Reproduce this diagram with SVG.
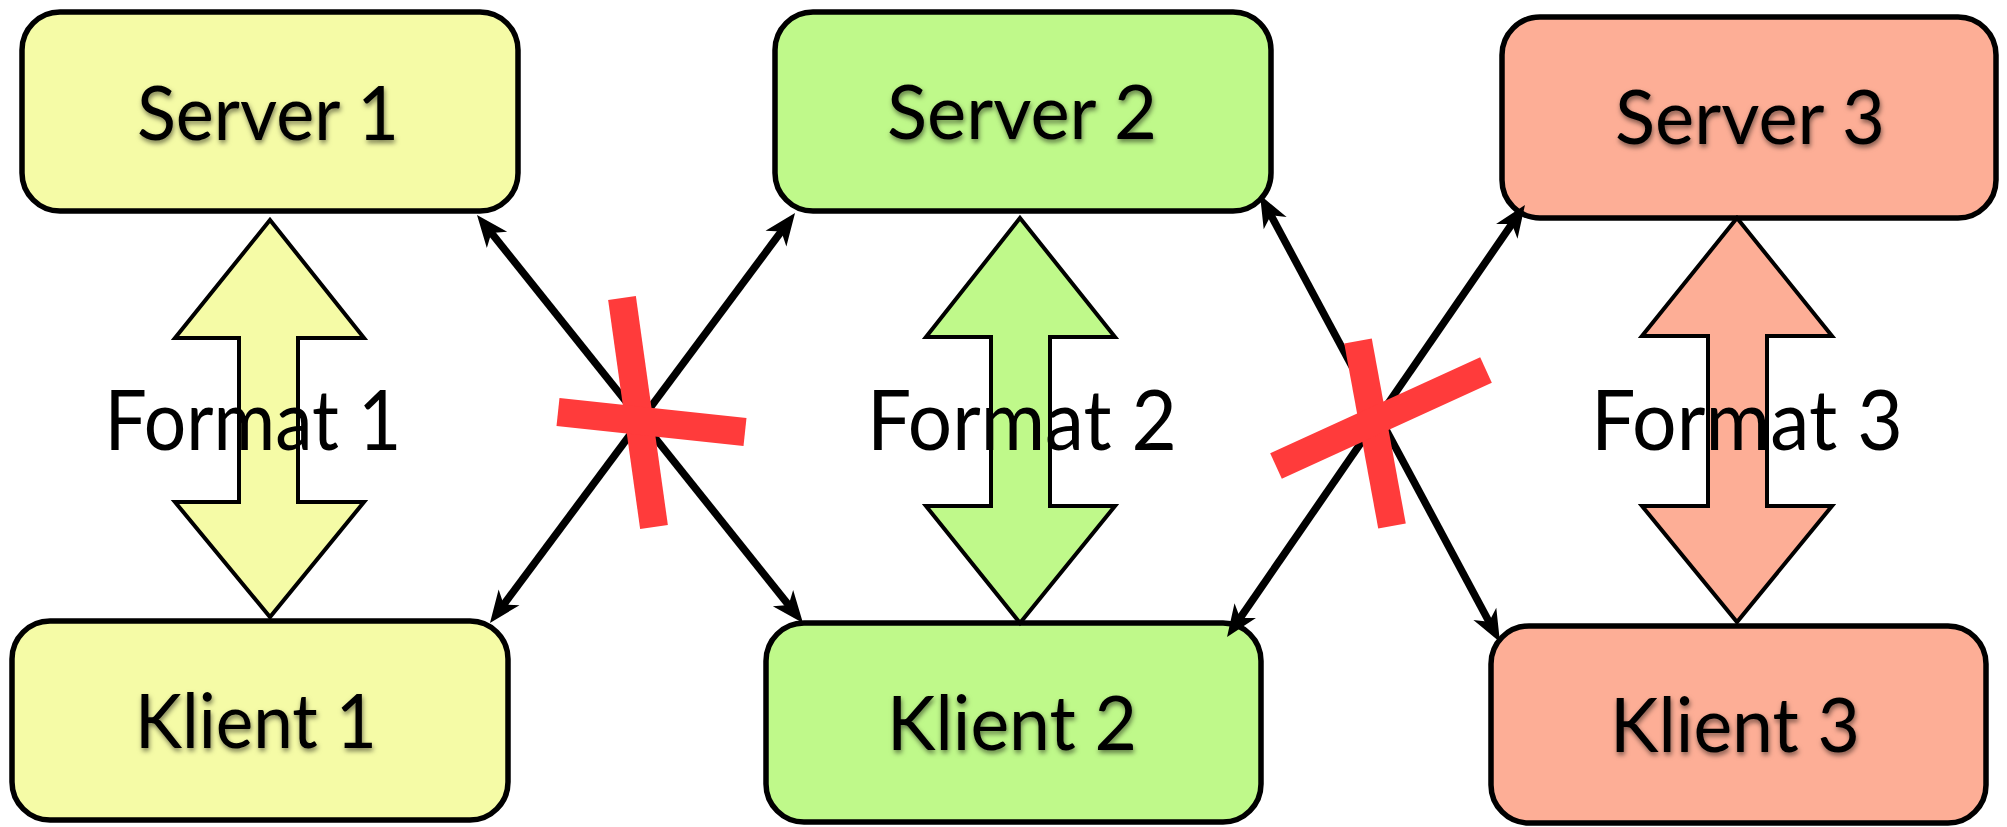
<svg xmlns="http://www.w3.org/2000/svg" width="2007" height="827" viewBox="0 0 2007 827">
<defs>
<filter id="sh" x="-10%" y="-20%" width="130%" height="160%">
<feDropShadow dx="1" dy="3" stdDeviation="2.5" flood-color="#000" flood-opacity="0.5"/>
</filter>
<marker id="ah" markerUnits="userSpaceOnUse" orient="auto-start-reverse" viewBox="-34 -15 35 30" markerWidth="35" markerHeight="30" refX="-20" refY="0">
<path d="M0,0 L-32,-13 L-23,0 L-32,13 Z" fill="#000"/>
</marker>
</defs>
<style>
.box{stroke:#000;stroke-width:5.5}
.y{fill:#f5fba6}.g{fill:#bff98a}.s{fill:#fdae96}
.lbl{font-family:"Lato","Liberation Sans",sans-serif;font-size:76px;fill:#000;text-anchor:middle;filter:url(#sh)}
.fmt{font-family:"Lato","Liberation Sans",sans-serif;font-size:84px;fill:#000;text-anchor:middle}
.blk{stroke:#000;stroke-width:4;stroke-linejoin:miter}
.con{stroke:#000;stroke-width:7.5;fill:none;marker-start:url(#ah);marker-end:url(#ah)}
.x{stroke:#ff3b3b;stroke-width:28;stroke-linecap:butt}
</style>
<rect width="2007" height="827" fill="#fff"/>
<g id="server1"><rect class="box y" x="22" y="12" width="496" height="199" rx="38"/><text class="lbl" x="268" y="140" textLength="262" lengthAdjust="spacingAndGlyphs">Server 1</text></g>
<g id="server2"><rect class="box g" x="775" y="12" width="496" height="199" rx="38"/><text class="lbl" x="1022" y="139" textLength="270" lengthAdjust="spacingAndGlyphs">Server 2</text></g>
<g id="server3"><rect class="box s" x="1502" y="17" width="494" height="201" rx="38"/><text class="lbl" x="1750" y="144" textLength="270" lengthAdjust="spacingAndGlyphs">Server 3</text></g>
<g id="klient1"><rect class="box y" x="12" y="621" width="496" height="199" rx="38"/><text class="lbl" x="256" y="748" textLength="242" lengthAdjust="spacingAndGlyphs">Klient 1</text></g>
<g id="klient2"><rect class="box g" x="766" y="623" width="495" height="199" rx="38"/><text class="lbl" x="1012" y="750" textLength="250" lengthAdjust="spacingAndGlyphs">Klient 2</text></g>
<g id="klient3"><rect class="box s" x="1491" y="626" width="495" height="197" rx="38"/><text class="lbl" x="1735" y="752" textLength="250" lengthAdjust="spacingAndGlyphs">Klient 3</text></g>
<g id="connectors">
<line class="con" x1="489.5" y1="230.6" x2="790.5" y2="607.4"/>
<line class="con" x1="501.9" y1="607.0" x2="783.1" y2="229.0"/>
<line class="con" x1="1269.5" y1="212.6" x2="1490.5" y2="624.4"/>
<line class="con" x1="1238.4" y1="620.5" x2="1513.6" y2="221.5"/>
</g>
<g id="format1">
<path class="blk y" d="M270,220 L364,338 L298,338 L298,502 L364,502 L270,617 L175,502 L239,502 L239,338 L175,338 Z"/>
<text class="fmt" x="253" y="450" textLength="297" lengthAdjust="spacingAndGlyphs">Format 1</text>
</g>
<g id="format2">
<path class="blk g" d="M1020,218 L1115,337 L1050,337 L1050,506 L1115,506 L1020,623 L926,506 L991,506 L991,337 L926,337 Z"/>
<text class="fmt" x="1022" y="450" textLength="310" lengthAdjust="spacingAndGlyphs">Format 2</text>
</g>
<g id="format3">
<path class="blk s" d="M1737,218 L1832,336 L1767,336 L1767,506 L1832,506 L1737,622 L1642,506 L1708,506 L1708,336 L1642,336 Z"/>
<text class="fmt" x="1747" y="450" textLength="312" lengthAdjust="spacingAndGlyphs">Format 3</text>
</g>
<g id="cross1">
<line class="x" x1="622" y1="298" x2="654" y2="527"/>
<line class="x" x1="558" y1="412" x2="745" y2="432"/>
</g>
<g id="cross2">
<line class="x" x1="1358" y1="341" x2="1392" y2="526"/>
<line class="x" x1="1276" y1="466" x2="1486" y2="370"/>
</g>
</svg>
